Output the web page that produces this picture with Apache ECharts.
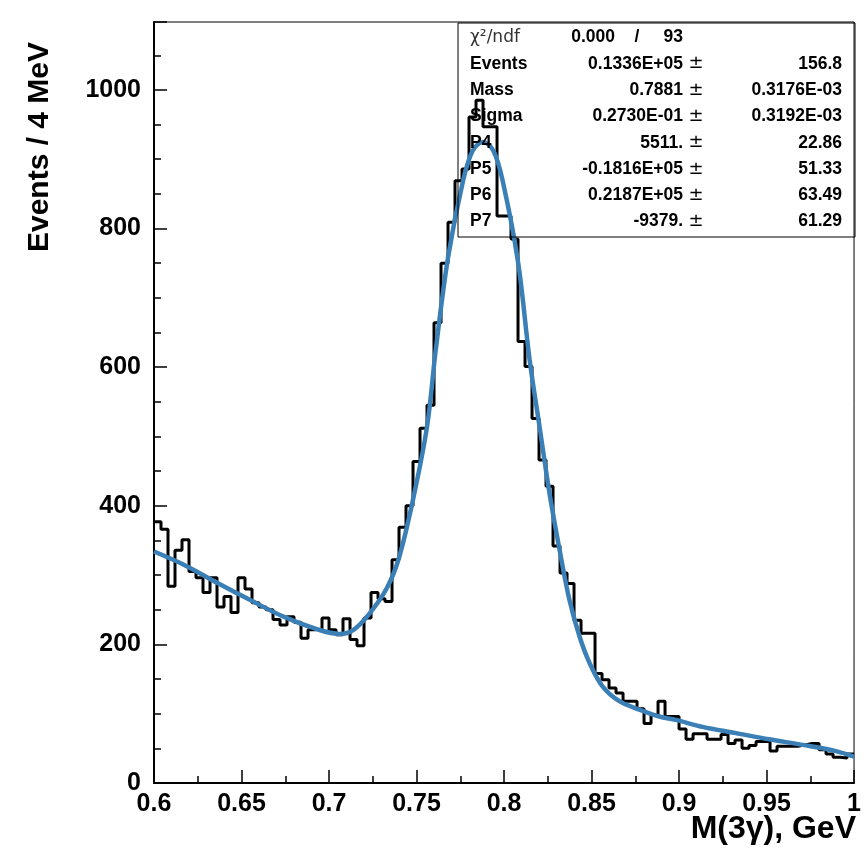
<!DOCTYPE html>
<html>
<head>
<meta charset="utf-8">
<script src="https://cdn.jsdelivr.net/npm/echarts@6/dist/echarts.min.js"></script>
<style>
html,body{margin:0;padding:0;background:#fff;}
#chart{width:864px;height:857px;}
</style>
</head>
<body>
<div id="chart"></div>
<script>
// Histogram: 100 bins of 4 MeV from 0.6 to 1.0 GeV
const binStart = 0.6;
const binWidth = 0.004;
const counts = [
  377, 366, 284, 336, 351, 305, 296, 275, 296, 254,
  269, 246, 296, 280, 260, 254, 250, 236, 228, 240,
  232, 209, 221, 222, 238, 221, 214, 237, 207, 198,
  238, 275, 266, 262, 322, 369, 400, 464, 512, 545,
  664, 750, 809, 869, 886, 961, 985, 947, 947, 818,
  818, 785, 637, 601, 526, 466, 428, 342, 303, 288,
  235, 216, 216, 158, 149, 137, 130, 118, 118, 107,
  86, 98, 118, 96, 96, 78, 63, 71, 71, 63,
  63, 70, 57, 62, 50, 54, 60, 60, 46, 53,
  53, 53, 55, 57, 57, 48, 42, 37, 36, 42
];

// Fit curve
const fitX = [0.600, 0.617, 0.636, 0.655, 0.674, 0.693, 0.706, 0.714, 0.723, 0.733,
              0.740, 0.748, 0.756, 0.761, 0.768, 0.7765, 0.782, 0.788, 0.794, 0.7993,
              0.808, 0.8146, 0.8203, 0.826, 0.8317, 0.8374, 0.8432, 0.8489, 0.8564, 0.8659,
              0.8773, 0.8887, 0.8982, 0.9134, 0.9325, 0.9515, 0.9705, 0.9896, 1.000];
const fitY = [334, 315, 289, 264, 240, 222, 215, 221, 244, 281,
              325, 409, 514, 625, 758, 868, 912, 925, 912, 868,
              752, 611, 514, 418, 337, 264, 211, 173, 139, 118,
              106, 96, 91, 81, 72, 63, 55, 46, 38];

// Axis ticks
const xTicks = [0.6, 0.65, 0.7, 0.75, 0.8, 0.85, 0.9, 0.95, 1];
const yTicks = [0, 200, 400, 600, 800, 1000];

// Stats box
const statNames = ['Events', 'Mass', 'Sigma', 'P4', 'P5', 'P6', 'P7'];
const statValues = ['0.1336E+05', '0.7881', '0.2730E-01', '5511.', '-0.1816E+05', '0.2187E+05', '-9379.'];
const statErrors = ['156.8', '0.3176E-03', '0.3192E-03', '22.86', '51.33', '63.49', '61.29'];
const chi2Value = '0.000';
const ndfValue = '93';

const histPts = [];
counts.forEach((c, i) => {
  const lo = binStart + i * binWidth;
  histPts.push([lo, c]);
  histPts.push([lo + binWidth, c]);
});
const fitPts = fitX.map((x, i) => [x, fitY[i]]);

const chart = echarts.init(document.getElementById('chart'));
const labelFont = { fontFamily: 'Liberation Sans', fontWeight: 'bold', fontSize: 25, color: '#000' };
const statFont = 'bold 17.5px "Liberation Sans"';

const graphics = [];
// axis titles
graphics.push({
  type: 'text', x: 40, y: 147, rotation: Math.PI / 2,
  style: { text: 'Events / 4 MeV', font: 'bold 30px "Liberation Sans"', fill: '#000',
           textAlign: 'center', textVerticalAlign: 'middle' }
});
graphics.push({
  type: 'text', x: 856, y: 829,
  style: { text: 'M(3γ), GeV', font: 'bold 32px "Liberation Sans"', fill: '#000',
           textAlign: 'right', textVerticalAlign: 'middle' }
});
// stats box
graphics.push({
  type: 'rect', shape: { x: 458, y: 23, width: 397, height: 214 },
  style: { fill: 'none', stroke: '#000', lineWidth: 1 }, z: 10
});
const row0 = 37.5, rowStep = 26.3;
graphics.push({ type: 'text', x: 470, y: row0, z: 11,
  style: { text: 'χ²/ndf', font: '17px "DejaVu Sans"', fill: '#333', textAlign: 'left', textVerticalAlign: 'middle' } });
graphics.push({ type: 'text', x: 615, y: row0, z: 11,
  style: { text: chi2Value, font: statFont, fill: '#000', textAlign: 'right', textVerticalAlign: 'middle' } });
graphics.push({ type: 'text', x: 637, y: row0, z: 11,
  style: { text: '/', font: statFont, fill: '#000', textAlign: 'center', textVerticalAlign: 'middle' } });
graphics.push({ type: 'text', x: 683, y: row0, z: 11,
  style: { text: ndfValue, font: statFont, fill: '#000', textAlign: 'right', textVerticalAlign: 'middle' } });
statNames.forEach((n, i) => {
  const y = row0 + rowStep * (i + 1);
  graphics.push({ type: 'text', x: 470, y: y, z: 11,
    style: { text: n, font: statFont, fill: '#000', textAlign: 'left', textVerticalAlign: 'middle' } });
  graphics.push({ type: 'text', x: 683, y: y, z: 11,
    style: { text: statValues[i], font: statFont, fill: '#000', textAlign: 'right', textVerticalAlign: 'middle' } });
  graphics.push({ type: 'text', x: 696, y: y, z: 11,
    style: { text: '±', font: '18px "DejaVu Sans"', fill: '#000', textAlign: 'center', textVerticalAlign: 'middle' } });
  graphics.push({ type: 'text', x: 842, y: y, z: 11,
    style: { text: statErrors[i], font: statFont, fill: '#000', textAlign: 'right', textVerticalAlign: 'middle' } });
});

chart.setOption({
  animation: false,
  backgroundColor: '#fff',
  grid: { left: 154, right: 9, top: 22, bottom: 74, show: true, borderColor: '#000', borderWidth: 1, backgroundColor: 'transparent' },
  xAxis: {
    type: 'value', min: 0.6, max: 1.0, interval: 0.05,
    axisLine: { onZero: false, lineStyle: { color: '#000', width: 2 } },
    axisTick: { inside: true, length: 13, lineStyle: { color: '#000', width: 1.5 } },
    minorTick: { show: true, splitNumber: 2, length: 7, lineStyle: { color: '#000', width: 1.5 } },
    splitLine: { show: false },
    minorSplitLine: { show: false },
    axisLabel: Object.assign({ margin: 9, formatter: v => {
      const t = xTicks.find(k => Math.abs(k - v) < 1e-6);
      return t === undefined ? '' : String(t);
    } }, labelFont)
  },
  yAxis: {
    type: 'value', min: 0, max: 1098, interval: 200,
    axisLine: { show: true, lineStyle: { color: '#000', width: 2 } },
    axisTick: { show: true, inside: true, length: 13, lineStyle: { color: '#000', width: 1.5 } },
    minorTick: { show: true, splitNumber: 4, length: 7, lineStyle: { color: '#000', width: 1.5 } },
    splitLine: { show: false },
    minorSplitLine: { show: false },
    axisLabel: Object.assign({ margin: 13, showMaxLabel: false, formatter: v => {
      const t = yTicks.find(k => Math.abs(k - v) < 1e-6);
      return t === undefined ? '' : String(t);
    } }, labelFont)
  },
  series: [
    {
      type: 'line', data: histPts, showSymbol: false, symbol: 'none',
      lineStyle: { color: '#000', width: 3 }, z: 2
    },
    {
      type: 'line', data: fitPts, smooth: 0.35, showSymbol: false, symbol: 'none',
      lineStyle: { color: '#3a7fb6', width: 4.5 }, z: 3
    }
  ],
  graphic: graphics
});
</script>
</body>
</html>
